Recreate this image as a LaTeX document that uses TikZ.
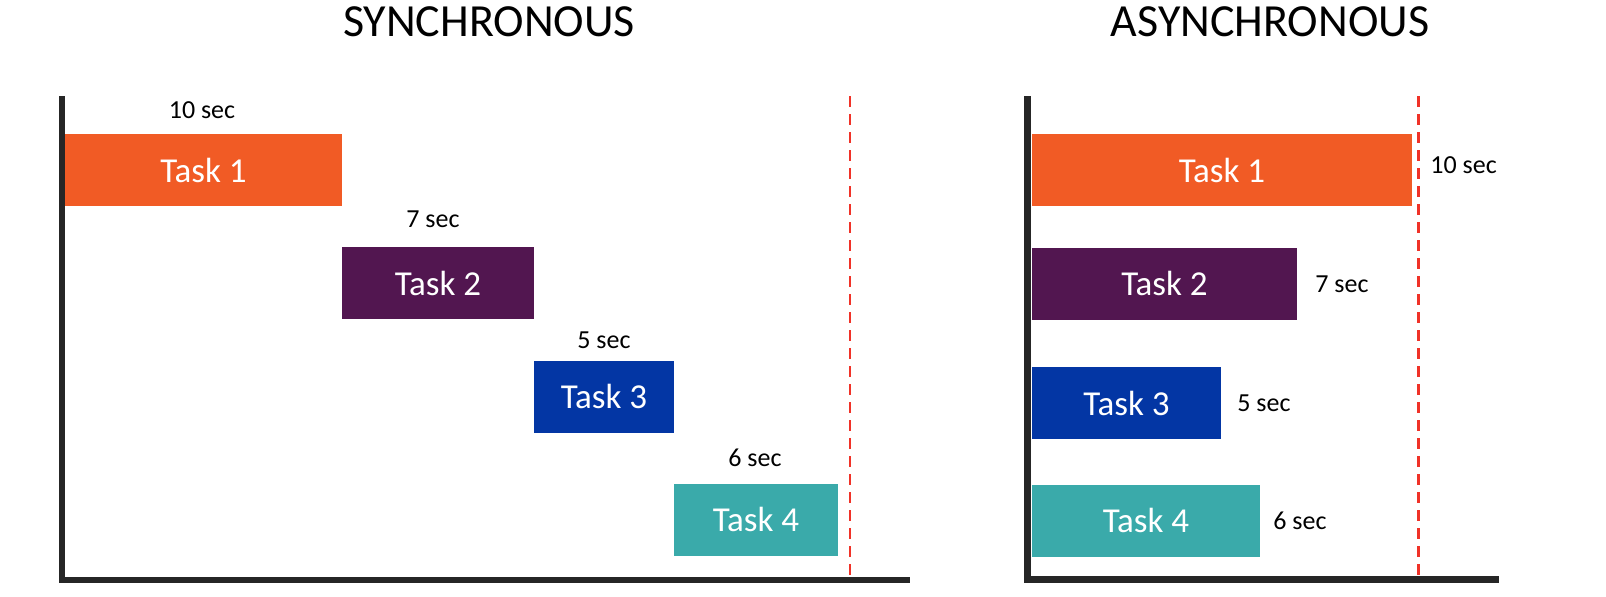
\documentclass[tikz,border=0pt]{standalone}
\usepackage{fontspec}
\setmainfont{Carlito}
\definecolor{torange}{RGB}{241,91,37}
\definecolor{tpurple}{RGB}{82,22,80}
\definecolor{tblue}{RGB}{3,54,164}
\definecolor{tteal}{RGB}{58,170,170}
\definecolor{axisgray}{RGB}{38,38,38}
\definecolor{limitred}{RGB}{240,50,40}
\begin{document}
\begin{tikzpicture}[x=0.5pt,y=-0.5pt,
  bar/.style={rectangle, inner sep=0pt, text=white, font=\fontsize{17.5}{20}\selectfont, minimum height=36pt},
  seclabel/.style={inner sep=0pt, font=\fontsize{13}{15}\selectfont, text=black},
  title/.style={inner sep=0pt, font=\fontsize{23}{27}\selectfont, text=black},
  axis/.style={draw=axisgray, line width=3pt},
  limit/.style={draw=limitred, line width=1.2pt, dash pattern=on 5.5pt off 3.5pt}]
\useasboundingbox (0,0) rectangle (1606,596);
% titles
\node[title, anchor=base] (tsync) at (489,36.7) {SYNCHRONOUS};
\node[title, anchor=base] (tasync) at (1270,36.7) {ASYNCHRONOUS};
% ---------- synchronous ----------
\coordinate (sTop) at (62,96);
\coordinate (sCorner) at (62,579.7);
\coordinate (sLeft) at (59,579.7);
\coordinate (sRight) at (910,579.7);
\coordinate (sLimTop) at (850,96);
\coordinate (sLimBot) at (850,580);
\node[bar, fill=torange, minimum width=138.5pt] (s1) at (203.5,170) {Task 1};
\node[bar, fill=tpurple, minimum width=96pt] (s2) at (438,283) {Task 2};
\node[bar, fill=tblue, minimum width=70pt] (s3) at (604,396.5) {Task 3};
\node[bar, fill=tteal, minimum width=82pt] (s4) at (756,519.5) {Task 4};
\node[seclabel, anchor=base] (ls1) at (202,118.3) {10 sec};
\node[seclabel, anchor=base] (ls2) at (433,227.3) {7 sec};
\node[seclabel, anchor=base] (ls3) at (604,348.3) {5 sec};
\node[seclabel, anchor=base] (ls4) at (755,466) {6 sec};
\draw[limit] (sLimTop) -- (sLimBot);
\draw[axis] (sTop) -- (sCorner);
\draw[axis] (sLeft) -- (sRight);
% ---------- asynchronous ----------
\coordinate (aTop) at (1027.5,96);
\coordinate (aCorner) at (1027.5,579.7);
\coordinate (aLeft) at (1024,579.7);
\coordinate (aRight) at (1499,579.7);
\coordinate (aLimTop) at (1418.5,96);
\coordinate (aLimBot) at (1418.5,580);
\node[bar, fill=torange, minimum width=190pt] (a1) at (1222,170) {Task 1};
\node[bar, fill=tpurple, minimum width=132.5pt] (a2) at (1164.5,283.5) {Task 2};
\node[bar, fill=tblue, minimum width=94.5pt] (a3) at (1126.5,403) {Task 3};
\node[bar, fill=tteal, minimum width=114pt] (a4) at (1146,520.5) {Task 4};
\node[seclabel, anchor=base west] (la1) at (1430,173.3) {10 sec};
\node[seclabel, anchor=base west] (la2) at (1315,292.7) {7 sec};
\node[seclabel, anchor=base west] (la3) at (1237,411.7) {5 sec};
\node[seclabel, anchor=base west] (la4) at (1273,529.3) {6 sec};
\draw[limit] (aLimTop) -- (aLimBot);
\draw[axis, line width=3.8pt] (aTop) -- (aCorner);
\draw[axis, line width=3.5pt] (aLeft) -- (aRight);
\end{tikzpicture}
\end{document}
